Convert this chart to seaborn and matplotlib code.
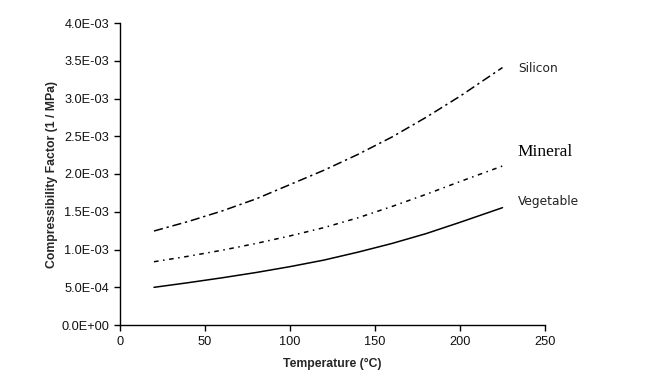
import matplotlib
matplotlib.use("Agg")
import matplotlib.pyplot as plt
import seaborn as sns
import pandas as pd
from matplotlib.ticker import FuncFormatter, MultipleLocator

temperature = [20, 40, 60, 80, 100, 120, 140, 160, 180, 200, 225]
silicon = [1.245e-3, 1.37e-3, 1.51e-3, 1.67e-3, 1.86e-3, 2.05e-3, 2.26e-3, 2.49e-3, 2.75e-3, 3.03e-3, 3.41e-3]
mineral = [0.838e-3, 0.91e-3, 0.99e-3, 1.08e-3, 1.18e-3, 1.29e-3, 1.42e-3, 1.57e-3, 1.73e-3, 1.90e-3, 2.106e-3]
vegetable = [0.499e-3, 0.56e-3, 0.625e-3, 0.695e-3, 0.773e-3, 0.86e-3, 0.965e-3, 1.08e-3, 1.21e-3, 1.36e-3, 1.554e-3]
series_names = ["Silicon", "Mineral", "Vegetable"]

sns.set_theme(style="white")
plt.rcParams['font.family'] = ['Liberation Sans', 'DejaVu Sans']

fig = plt.figure(figsize=(6.56, 3.83), dpi=100)
ax = fig.add_axes([120/656, 1-325/383, (545-120)/656, (325-23)/383])

df = pd.DataFrame({"T": temperature * 3,
                   "v": silicon + mineral + vegetable,
                   "s": [series_names[0]]*len(temperature) + [series_names[1]]*len(temperature) + [series_names[2]]*len(temperature)})

sns.lineplot(data=df, x="T", y="v", style="s", style_order=series_names,
             dashes={"Silicon": (6, 2.5, 1.5, 2.5), "Mineral": (3, 3, 1, 3), "Vegetable": ""},
             color="black", linewidth=1.1, legend=False, ax=ax)

ax.set_xlim(0, 250)
ax.set_ylim(0, 4.0e-3)
ax.xaxis.set_major_locator(MultipleLocator(50))
ax.yaxis.set_major_locator(MultipleLocator(5e-4))

def sci(v, pos):
    if abs(v) < 1e-12:
        return "0.0E+00"
    return "%.1E" % v
ax.yaxis.set_major_formatter(FuncFormatter(sci))

for sp in ["top", "right"]:
    ax.spines[sp].set_visible(False)
for sp in ["left", "bottom"]:
    ax.spines[sp].set_color("black")
    ax.spines[sp].set_linewidth(1.0)
ax.tick_params(axis="both", which="major", direction="out", length=4, width=1,
               color="black", labelsize=9.2, labelcolor="#111111", left=True, bottom=True, pad=4)
ax.grid(False)

ax.set_xlabel("Temperature (°C)", fontsize=8.8, fontweight="bold", labelpad=7)
ax.set_ylabel("Compressibility Factor (1 / MPa)", fontsize=8.8, fontweight="bold", labelpad=2)

side = ["DejaVu Sans"]
ax.text(234, 3.40e-3, "Silicon", fontsize=8.8, va="center", ha="left", clip_on=False,
        family=side, color="#222222")
ax.text(234, 2.29e-3, "Mineral", fontsize=12.5, va="center", ha="left", clip_on=False,
        family=["Liberation Serif", "DejaVu Serif"], color="black")
ax.text(234, 1.64e-3, "Vegetable", fontsize=8.8, va="center", ha="left", clip_on=False,
        family=side, color="#222222")

fig.savefig("out.png", dpi=100)
